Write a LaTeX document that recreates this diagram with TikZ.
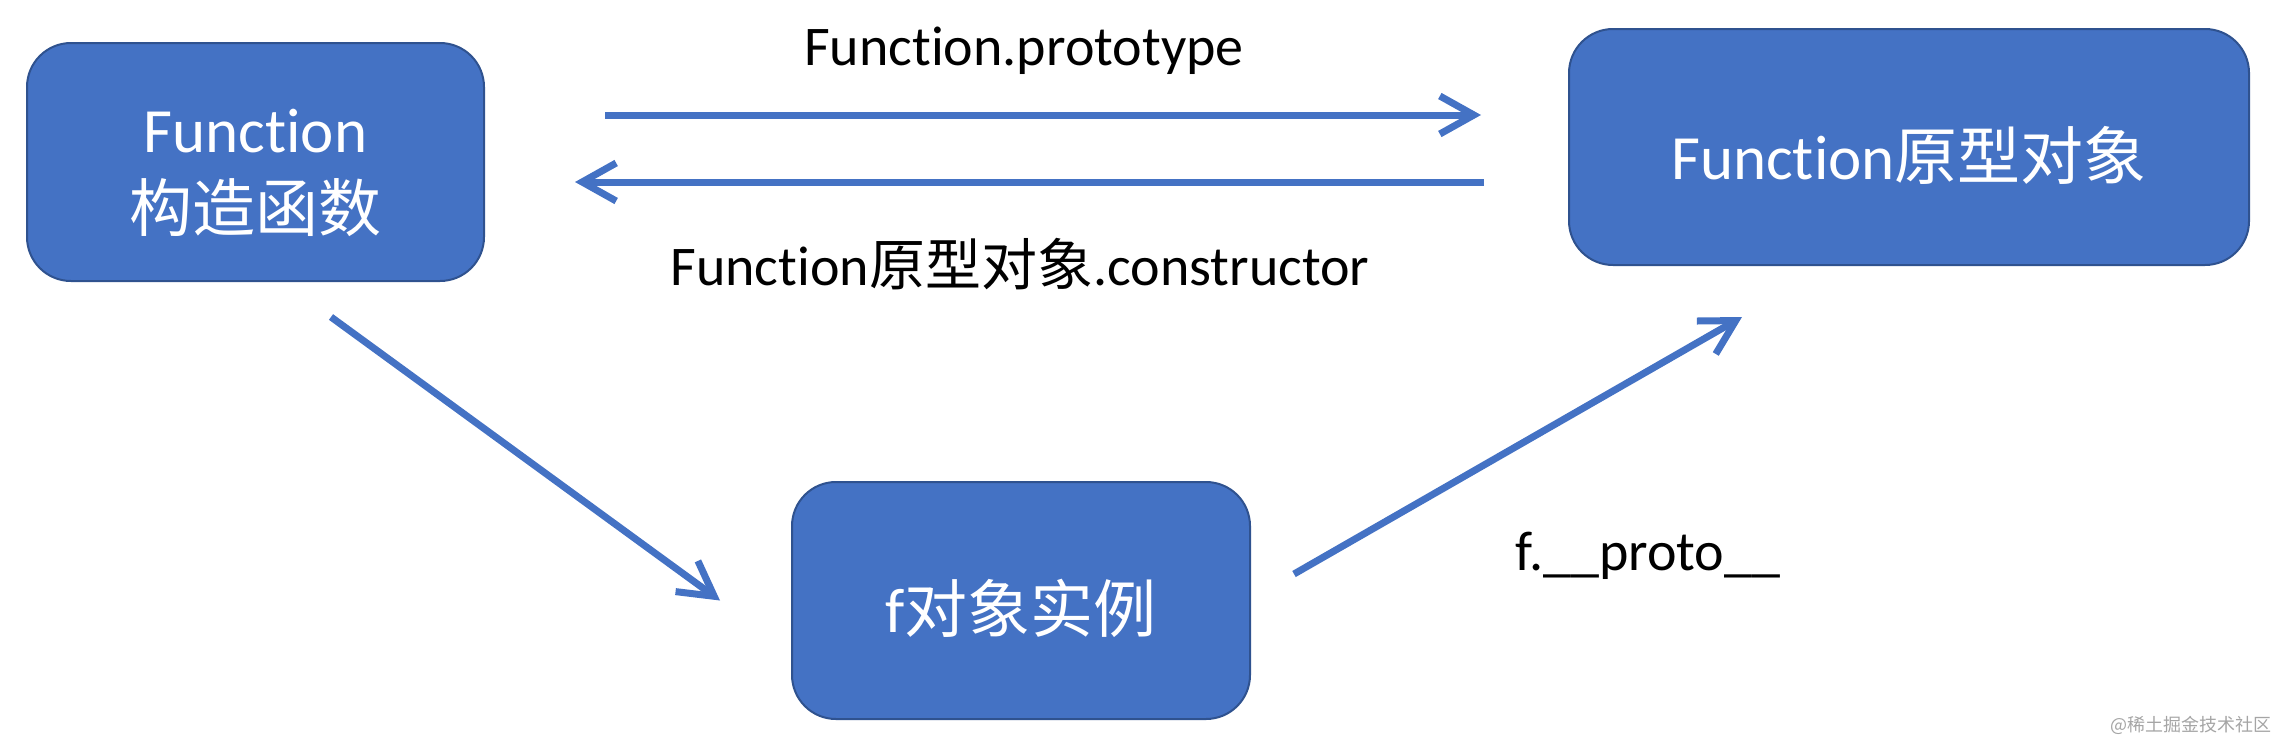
\documentclass[tikz,border=0pt]{standalone}
\usepackage{fontspec}
\setmainfont{Carlito}[RawFeature={-liga;-clig;-calt;-dlig}]
\newfontfamily\cjk{Noto Sans CJK SC}
\usepackage{tikz}
\usetikzlibrary{arrows.meta,calc}
\definecolor{myblue}{RGB}{68,114,196}
\definecolor{myborder}{RGB}{47,82,143}
\definecolor{mygray}{RGB}{165,165,165}
\tikzset{every picture/.style={line width=0.75pt}}
\tikzset{
  objbox/.style={draw=myborder, line width=1pt, fill=myblue, rounded corners=22pt, text=white, align=center, inner sep=0pt, font=\fontsize{31.5}{39.5}\selectfont, execute at begin node=\rule{0pt}{#1}},
  objbox/.default=35pt,
  link/.style={draw=myblue, line width=3.5pt, -{Straight Barb[length=17pt,width=19pt]}},
  lbl/.style={inner sep=0pt, font=\fontsize{28}{32}\selectfont}
}

\begin{document}
\begin{tikzpicture}[x=0.5pt,y=0.5pt,yscale=-1]
\useasboundingbox (0,0) rectangle (2278,744);

%Shape: Rounded Rect [ctor]
\node [objbox=72pt, minimum width=228.5pt, minimum height=119pt] (ctor) at (255.5,162) {Function\\{\cjk 构造函数}};
%Shape: Rounded Rect [proto]
\node [objbox, minimum width=340pt, minimum height=118pt] (proto) at (1909,147) {Function{\cjk 原型对象}};
%Shape: Rounded Rect [inst]
\node [objbox, minimum width=229pt, minimum height=118.5pt] (inst) at (1021,600.5) {f{\cjk 对象实例}};

\coordinate (upper) at (0,115);
\coordinate (lower) at (0,182);

%Straight Lines [ctor -> proto]
\draw [link, shorten <=60pt, shorten >=43.5pt] (ctor.east |- upper) -- (proto.west |- upper);
%Straight Lines [proto -> ctor]
\draw [link, shorten <=42pt, shorten >=45pt] (proto.west |- lower) -- (ctor.east |- lower);
%Straight Lines [ctor -> inst]
\draw [link] ($(ctor.south)+(75.5,35)$) -- ($(inst.west)+(-71,0)$);
%Straight Lines [inst -> proto]
\draw [link] ($(inst.east)+(43,-26.5)$) -- ($(proto.south)+(-167,51)$);

% Text Node
\node [lbl, anchor=base] (protolbl) at (1024,65) {Function.prototype};
% Text Node
\node [lbl, anchor=base] (ctorlbl) at (1020,285) {Function{\cjk 原型对象}.constructor};
% Text Node
\node [lbl, anchor=base west] (dunder) at (1515,570) {f.\_\_proto\_\_};
% Text Node
\node [inner sep=0pt, text=mygray, font=\cjk\fontsize{9}{10}\selectfont, anchor=east] (mark) at (2272,725) {@稀土掘金技术社区};
\end{tikzpicture}
\end{document}
